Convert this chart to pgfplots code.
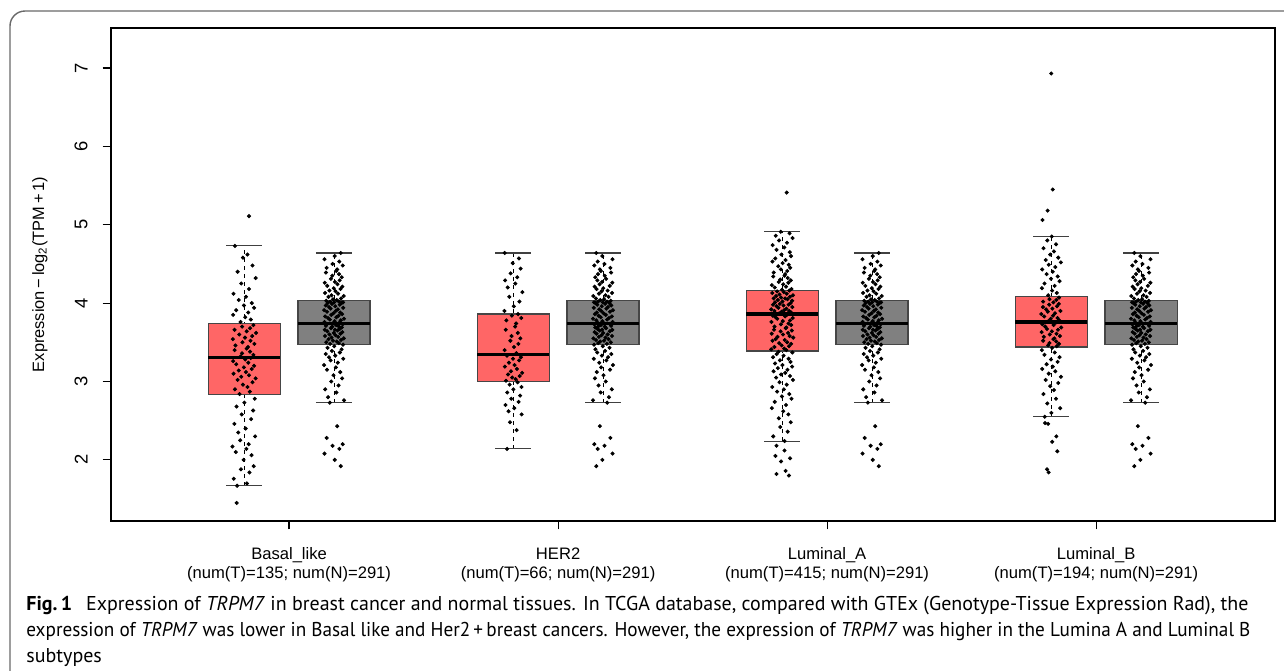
\documentclass[border=0pt]{standalone}
\usepackage{fontspec}
\setmainfont{Liberation Sans}
\newfontfamily\capfont{PT Sans}
\usepackage{graphicx}
\usepackage{pgfplots}
\usepackage{pgfplotstable}
\pgfplotsset{compat=1.18}
\definecolor{tred}{RGB}{255,102,102}
\definecolor{ngray}{RGB}{128,128,128}
\definecolor{boxedge}{RGB}{70,70,70}
\definecolor{framegray}{RGB}{105,105,105}

% Normal tissue (GTEx), shared by all four subtypes
\pgfplotstableread[row sep=\\]{
j y\\
0.31 2.43\\ -0.72 2.28\\ 0.85 2.20\\ -0.14 2.18\\ 0.52 2.14\\ -0.93 2.08\\ 0.07 2.00\\ 0.66 1.92\\
-0.41 2.73\\ 0.98 2.76\\ -0.58 2.80\\ 0.23 2.86\\ -0.86 2.90\\ 0.44 2.95\\ -0.27 3.00\\ 0.79 3.04\\
-0.05 3.08\\ 0.61 3.12\\ -0.69 3.15\\ 0.18 3.18\\ -0.97 3.21\\ 0.37 3.24\\ -0.33 3.27\\ 0.90 3.29\\
-0.49 3.31\\ 0.12 3.33\\ -0.81 3.35\\ 0.57 3.37\\ -0.20 3.39\\ 0.74 3.41\\ -0.63 3.43\\ 0.02 3.45\\
0.88 3.47\\ -0.38 3.48\\ 0.47 3.49\\ -0.76 3.50\\ 0.27 3.51\\ -0.10 3.52\\ 0.69 3.53\\ -0.54 3.54\\
0.95 3.55\\ -0.24 3.56\\ 0.40 3.57\\ -0.88 3.58\\ 0.15 3.59\\ -0.45 3.60\\ 0.63 3.61\\ -0.02 3.62\\
0.82 3.63\\ -0.66 3.64\\ 0.34 3.65\\ -0.91 3.66\\ 0.09 3.66\\ 0.55 3.67\\ -0.30 3.68\\ 0.76 3.69\\
-0.17 3.70\\ 0.49 3.70\\ -0.79 3.71\\ 0.21 3.72\\ 0.31 3.72\\ -0.72 3.73\\ 0.85 3.73\\ -0.14 3.74\\
0.52 3.75\\ -0.93 3.76\\ 0.07 3.77\\ 0.66 3.78\\ -0.41 3.79\\ 0.98 3.80\\ -0.58 3.81\\ 0.23 3.82\\
-0.86 3.83\\ 0.44 3.84\\ -0.27 3.85\\ 0.79 3.86\\ -0.05 3.87\\ 0.61 3.88\\ -0.69 3.89\\ 0.18 3.90\\
-0.97 3.91\\ 0.37 3.92\\ -0.33 3.93\\ 0.90 3.94\\ -0.49 3.95\\ 0.12 3.96\\ -0.81 3.97\\ 0.57 3.98\\
-0.20 3.99\\ 0.74 4.00\\ -0.63 4.00\\ 0.02 4.01\\ 0.88 4.01\\ -0.38 4.02\\ 0.47 4.02\\ -0.76 4.03\\
0.27 4.04\\ -0.10 4.05\\ 0.69 4.06\\ -0.54 4.08\\ 0.95 4.09\\ -0.24 4.10\\ 0.40 4.12\\ -0.88 4.13\\
0.15 4.15\\ -0.45 4.16\\ 0.63 4.18\\ -0.02 4.19\\ 0.82 4.21\\ -0.66 4.22\\ 0.34 4.24\\ -0.91 4.26\\
0.09 4.27\\ 0.55 4.29\\ -0.30 4.31\\ 0.76 4.33\\ -0.17 4.35\\ 0.49 4.37\\ -0.79 4.39\\ 0.21 4.41\\
0.31 4.43\\ -0.72 4.45\\ 0.85 4.48\\ -0.14 4.50\\ 0.52 4.53\\ -0.93 4.56\\ 0.07 4.60\\ 0.66 4.64\\
}\normaltab

% Basal_like tumour
\pgfplotstableread[row sep=\\]{
j y\\
-0.58 1.67\\ 0.23 1.70\\ -0.86 1.76\\ 0.44 1.84\\ -0.27 1.88\\ 0.79 1.92\\ -0.05 2.00\\ 0.61 2.06\\
-0.69 2.10\\ 0.18 2.14\\ -0.97 2.17\\ 0.37 2.20\\ -0.33 2.25\\ 0.90 2.30\\ -0.49 2.35\\ 0.12 2.40\\
-0.81 2.46\\ 0.57 2.52\\ -0.20 2.58\\ 0.74 2.63\\ -0.63 2.68\\ 0.02 2.73\\ 0.88 2.78\\
-0.38 2.84\\ 0.47 2.87\\ -0.76 2.90\\ 0.27 2.93\\ -0.10 2.96\\ 0.69 2.99\\ -0.54 3.02\\ 0.95 3.04\\
-0.24 3.06\\ 0.40 3.08\\ -0.88 3.10\\ 0.15 3.12\\ -0.45 3.14\\ 0.63 3.16\\ -0.02 3.18\\ 0.82 3.20\\
-0.66 3.22\\ 0.34 3.24\\ -0.91 3.26\\ 0.09 3.28\\ 0.55 3.30\\
-0.30 3.32\\ 0.76 3.34\\ -0.17 3.36\\ 0.49 3.38\\ -0.79 3.40\\ 0.21 3.42\\ 0.31 3.44\\ -0.72 3.46\\
0.85 3.48\\ -0.14 3.50\\ 0.52 3.52\\ -0.93 3.54\\ 0.07 3.56\\ 0.66 3.58\\ -0.41 3.60\\ 0.98 3.62\\
0.21 3.64\\ -0.79 3.66\\ 0.49 3.68\\ -0.17 3.70\\ 0.76 3.72\\
-0.30 3.76\\ 0.55 3.79\\ 0.09 3.82\\ -0.91 3.85\\ 0.34 3.88\\ -0.66 3.91\\ 0.82 3.94\\ -0.02 3.97\\
0.63 4.00\\ -0.45 4.04\\ 0.15 4.08\\ -0.88 4.12\\ 0.40 4.18\\ -0.24 4.25\\ 0.95 4.32\\ -0.54 4.40\\
0.69 4.48\\ -0.10 4.58\\ 0.27 4.62\\ -0.76 4.73\\
0.40 5.11\\ -0.62 1.45\\
}\basaltab

% HER2 tumour
\pgfplotstableread[row sep=\\]{
j y\\
-0.65 2.14\\ 0.37 2.38\\ -0.33 2.48\\ 0.90 2.58\\ -0.49 2.62\\ 0.12 2.66\\ -0.81 2.70\\ 0.57 2.74\\
-0.20 2.78\\ 0.74 2.82\\ -0.63 2.86\\ 0.02 2.90\\ 0.88 2.93\\ -0.38 2.96\\ 0.47 2.99\\
-0.76 3.01\\ 0.27 3.03\\ -0.10 3.05\\ 0.69 3.07\\ -0.54 3.09\\ 0.95 3.11\\ -0.24 3.13\\ 0.40 3.16\\
-0.88 3.19\\ 0.15 3.21\\ -0.45 3.24\\ 0.63 3.27\\ -0.02 3.29\\ 0.82 3.31\\ -0.66 3.33\\
0.34 3.36\\ -0.91 3.40\\ 0.09 3.44\\ 0.55 3.48\\ -0.30 3.52\\ 0.76 3.55\\ -0.17 3.58\\ 0.49 3.62\\
-0.79 3.66\\ 0.21 3.70\\ 0.31 3.74\\ -0.72 3.78\\ 0.85 3.81\\ -0.14 3.84\\ 0.52 3.86\\
-0.93 3.90\\ 0.07 3.96\\ 0.66 4.02\\ -0.41 4.08\\ 0.98 4.14\\ -0.58 4.20\\ 0.23 4.25\\ -0.86 4.29\\
0.44 4.33\\ -0.27 4.38\\ 0.79 4.44\\ -0.05 4.51\\ 0.61 4.57\\ -0.90 4.64\\
}\hertab

% Luminal_A tumour
\pgfplotstableread[row sep=\\]{
j y\\
0.21 2.24\\ -0.79 2.30\\ 0.49 2.36\\ -0.17 2.42\\ 0.76 2.48\\ -0.30 2.53\\ 0.55 2.58\\ 0.09 2.62\\
-0.91 2.66\\ 0.34 2.70\\ -0.66 2.74\\ 0.82 2.78\\ -0.02 2.81\\ 0.63 2.84\\ -0.45 2.87\\ 0.15 2.90\\
-0.88 2.93\\ 0.40 2.96\\ -0.24 2.99\\ 0.95 3.02\\ -0.54 3.05\\ 0.69 3.07\\ -0.10 3.09\\ 0.27 3.11\\
-0.76 3.13\\ 0.47 3.15\\ -0.38 3.17\\ 0.88 3.19\\ 0.02 3.21\\ -0.63 3.23\\ 0.74 3.25\\ -0.20 3.27\\
0.57 3.29\\ -0.81 3.31\\ 0.12 3.33\\ -0.49 3.35\\ 0.90 3.37\\ -0.33 3.38\\
0.37 3.40\\ -0.97 3.41\\ 0.18 3.42\\ -0.69 3.44\\ 0.61 3.45\\ -0.05 3.46\\ 0.79 3.48\\ -0.27 3.49\\
0.44 3.50\\ -0.86 3.52\\ 0.23 3.53\\ -0.58 3.54\\ 0.98 3.56\\ -0.41 3.57\\ 0.66 3.58\\ 0.07 3.60\\
-0.93 3.61\\ 0.52 3.62\\ -0.14 3.64\\ 0.85 3.65\\ -0.72 3.66\\ 0.31 3.68\\ 0.36 3.69\\ -0.68 3.70\\
0.80 3.72\\ -0.11 3.73\\ 0.56 3.74\\ -0.95 3.76\\ 0.05 3.77\\ 0.70 3.78\\ -0.44 3.80\\ 0.93 3.81\\
-0.60 3.82\\ 0.26 3.83\\ -0.83 3.84\\ 0.41 3.85\\
-0.27 3.87\\ 0.79 3.88\\ -0.05 3.89\\ 0.61 3.90\\ -0.69 3.90\\ 0.18 3.91\\ -0.97 3.92\\ 0.37 3.93\\
-0.33 3.94\\ 0.90 3.95\\ -0.49 3.96\\ 0.12 3.97\\ -0.81 3.98\\ 0.57 3.98\\ -0.20 3.99\\ 0.74 4.00\\
-0.63 4.01\\ 0.02 4.02\\ 0.88 4.03\\ -0.38 4.04\\ 0.47 4.05\\ -0.76 4.06\\ 0.27 4.06\\ -0.10 4.07\\
0.69 4.08\\ -0.54 4.09\\ 0.95 4.10\\ -0.24 4.11\\ 0.40 4.12\\ -0.88 4.13\\ 0.15 4.14\\ -0.45 4.15\\
0.63 4.16\\
-0.02 4.17\\ 0.82 4.18\\ -0.66 4.20\\ 0.34 4.21\\ -0.91 4.23\\ 0.09 4.24\\ 0.55 4.26\\ -0.30 4.27\\
0.76 4.29\\ -0.17 4.30\\ 0.49 4.32\\ -0.79 4.34\\ 0.21 4.35\\ 0.26 4.37\\ -0.75 4.39\\ 0.45 4.41\\
-0.12 4.43\\ 0.71 4.45\\ -0.35 4.47\\ 0.58 4.49\\ 0.04 4.51\\ -0.86 4.53\\ 0.30 4.55\\ -0.61 4.57\\
0.78 4.60\\ -0.07 4.62\\ 0.67 4.65\\ -0.50 4.68\\ 0.19 4.71\\ -0.84 4.74\\ 0.43 4.77\\ -0.28 4.80\\
0.92 4.83\\ -0.57 4.86\\ 0.65 4.89\\ -0.13 4.91\\
0.40 5.41\\ -0.50 2.18\\ 0.20 2.12\\ -0.60 2.05\\ 0.70 2.02\\ -0.10 1.98\\ 0.30 1.86\\ -0.50 1.82\\
0.60 1.80\\
}\lumatab

% Luminal_B tumour
\pgfplotstableread[row sep=\\]{
j y\\
-0.63 2.55\\ 0.02 2.60\\ 0.88 2.66\\ -0.38 2.72\\ 0.47 2.78\\ -0.76 2.84\\ 0.27 2.89\\ -0.10 2.94\\
0.69 2.98\\ -0.54 3.02\\ 0.95 3.06\\ -0.24 3.10\\ 0.40 3.13\\ -0.88 3.16\\ 0.15 3.19\\ -0.45 3.22\\
0.63 3.25\\ -0.02 3.28\\ 0.82 3.31\\ -0.66 3.34\\ 0.34 3.37\\ -0.91 3.40\\ 0.09 3.43\\
0.55 3.45\\ -0.30 3.46\\ 0.76 3.48\\ -0.17 3.49\\ 0.49 3.51\\ -0.79 3.52\\ 0.21 3.54\\ 0.31 3.55\\
-0.72 3.57\\ 0.85 3.58\\ -0.14 3.60\\ 0.52 3.61\\ -0.93 3.63\\ 0.07 3.64\\ 0.66 3.66\\ -0.41 3.67\\
0.98 3.69\\ -0.58 3.70\\ 0.23 3.72\\ -0.86 3.73\\ 0.44 3.75\\
-0.27 3.77\\ 0.79 3.78\\ -0.05 3.80\\ 0.61 3.81\\ -0.69 3.83\\ 0.18 3.84\\ -0.97 3.86\\ 0.37 3.87\\
-0.33 3.89\\ 0.90 3.90\\ -0.49 3.92\\ 0.12 3.93\\ -0.81 3.95\\ 0.57 3.96\\ -0.20 3.98\\ 0.74 3.99\\
0.21 4.01\\ -0.79 4.02\\ 0.49 4.04\\ -0.17 4.05\\ 0.76 4.07\\
-0.30 4.10\\ 0.55 4.13\\ 0.09 4.16\\ -0.91 4.19\\ 0.34 4.22\\ -0.66 4.25\\ 0.82 4.28\\ -0.02 4.31\\
0.63 4.34\\ -0.45 4.37\\ 0.15 4.40\\ -0.88 4.43\\ 0.40 4.46\\ -0.24 4.49\\ 0.95 4.52\\ -0.54 4.55\\
0.69 4.58\\ -0.10 4.62\\ 0.27 4.66\\ -0.76 4.70\\ 0.47 4.75\\ -0.38 4.80\\ 0.05 4.85\\
0.00 6.93\\ 0.15 5.45\\ -0.35 5.18\\ -0.85 5.06\\ -0.60 2.47\\ -0.30 2.46\\ 0.50 2.30\\ 0.10 2.23\\
0.60 2.11\\ -0.40 1.88\\ -0.25 1.84\\
}\lumbtab

\pgfplotsset{
  stem/.style={black, line width=0.5pt, dash pattern=on 2pt off 2pt, mark=none},
  cap/.style={black!75, line width=0.55pt, mark=none},
  boxr/.style={draw=boxedge, fill=tred, line width=0.6pt, mark=none},
  boxg/.style={draw=boxedge, fill=ngray, line width=0.6pt, mark=none},
  med/.style={black, line width=1.6pt, mark=none},
  pts/.style={only marks, mark=*, mark size=0.8pt, black, mark options={draw=black, fill=black}},
}

\begin{document}
\begin{tikzpicture}
\useasboundingbox (0,0) rectangle (642pt,-335pt);
\draw[framegray, line width=0.7pt] (5pt,-345pt) -- (5pt,-13pt) arc[start angle=180, end angle=90, radius=7.5pt] -- (650pt,-5.5pt);

\begin{axis}[
  at={(55.5pt,-260.5pt)}, anchor=south west,
  scale only axis, width=582pt, height=246.5pt,
  xmin=-0.662, xmax=3.665, ymin=1.22, ymax=7.51,
  axis line style={line width=0.9pt},
  tick align=outside, xtick pos=left, ytick pos=left,
  major tick length=4.2pt,
  every tick/.style={black, line width=0.6pt},
  xtick={0,1,2,3}, ytick={2,3,4,5,6,7},
  xticklabels={{Basal\_like\\(num(T)=135; num(N)=291)},{HER2\\(num(T)=66; num(N)=291)},{Luminal\_A\\(num(T)=415; num(N)=291)},{Luminal\_B\\(num(T)=194; num(N)=291)}},
  xticklabel style={align=center, font=\fontsize{8.3}{9.6}\selectfont, yshift=-5.5pt},
  /pgf/number format/assume math mode=true,
  yticklabel style={xshift=-4pt, rotate=90, anchor=south, font=\fontsize{9.2}{10}\selectfont},
  ylabel={Expression\,−\,log\textsubscript{2}(TPM\,+\,1)},
  every axis y label/.style={at={(axis description cs:-0.061,0.5)}, rotate=90, anchor=center, font=\fontsize{8.2}{10}\selectfont},
  clip=false,
]
% ---- Basal_like
\addplot[stem] coordinates {(-0.167,1.67) (-0.167,4.73)};
\addplot[cap] coordinates {(-0.234,1.67) (-0.100,1.67)};
\addplot[cap] coordinates {(-0.234,4.73) (-0.100,4.73)};
\addplot[boxr] coordinates {(-0.301,2.83) (-0.033,2.83) (-0.033,3.74) (-0.301,3.74) (-0.301,2.83)};
\addplot[med] coordinates {(-0.301,3.31) (-0.033,3.31)};
\addplot[stem] coordinates {(0.167,2.73) (0.167,4.64)};
\addplot[cap] coordinates {(0.100,2.73) (0.234,2.73)};
\addplot[cap] coordinates {(0.100,4.64) (0.234,4.64)};
\addplot[boxg] coordinates {(0.033,3.47) (0.301,3.47) (0.301,4.03) (0.033,4.03) (0.033,3.47)};
\addplot[med] coordinates {(0.033,3.74) (0.301,3.74)};
% ---- HER2
\addplot[stem] coordinates {(0.833,2.14) (0.833,4.64)};
\addplot[cap] coordinates {(0.766,2.14) (0.900,2.14)};
\addplot[cap] coordinates {(0.766,4.64) (0.900,4.64)};
\addplot[boxr] coordinates {(0.699,3.00) (0.967,3.00) (0.967,3.86) (0.699,3.86) (0.699,3.00)};
\addplot[med] coordinates {(0.699,3.34) (0.967,3.34)};
\addplot[stem] coordinates {(1.167,2.73) (1.167,4.64)};
\addplot[cap] coordinates {(1.100,2.73) (1.234,2.73)};
\addplot[cap] coordinates {(1.100,4.64) (1.234,4.64)};
\addplot[boxg] coordinates {(1.033,3.47) (1.301,3.47) (1.301,4.03) (1.033,4.03) (1.033,3.47)};
\addplot[med] coordinates {(1.033,3.74) (1.301,3.74)};
% ---- Luminal_A
\addplot[stem] coordinates {(1.833,2.24) (1.833,4.91)};
\addplot[cap] coordinates {(1.766,2.24) (1.900,2.24)};
\addplot[cap] coordinates {(1.766,4.91) (1.900,4.91)};
\addplot[boxr] coordinates {(1.699,3.39) (1.967,3.39) (1.967,4.16) (1.699,4.16) (1.699,3.39)};
\addplot[med] coordinates {(1.699,3.86) (1.967,3.86)};
\addplot[stem] coordinates {(2.167,2.73) (2.167,4.64)};
\addplot[cap] coordinates {(2.100,2.73) (2.234,2.73)};
\addplot[cap] coordinates {(2.100,4.64) (2.234,4.64)};
\addplot[boxg] coordinates {(2.033,3.47) (2.301,3.47) (2.301,4.03) (2.033,4.03) (2.033,3.47)};
\addplot[med] coordinates {(2.033,3.74) (2.301,3.74)};
% ---- Luminal_B
\addplot[stem] coordinates {(2.833,2.55) (2.833,4.85)};
\addplot[cap] coordinates {(2.766,2.55) (2.900,2.55)};
\addplot[cap] coordinates {(2.766,4.85) (2.900,4.85)};
\addplot[boxr] coordinates {(2.699,3.44) (2.967,3.44) (2.967,4.08) (2.699,4.08) (2.699,3.44)};
\addplot[med] coordinates {(2.699,3.76) (2.967,3.76)};
\addplot[stem] coordinates {(3.167,2.73) (3.167,4.64)};
\addplot[cap] coordinates {(3.100,2.73) (3.234,2.73)};
\addplot[cap] coordinates {(3.100,4.64) (3.234,4.64)};
\addplot[boxg] coordinates {(3.033,3.47) (3.301,3.47) (3.301,4.03) (3.033,4.03) (3.033,3.47)};
\addplot[med] coordinates {(3.033,3.74) (3.301,3.74)};
% ---- jittered samples
\addplot[pts] table[x expr={-0.167+0.045*\thisrow{j}}, y=y] {\basaltab};
\addplot[pts] table[x expr={0.167+0.038*\thisrow{j}}, y=y] {\normaltab};
\addplot[pts] table[x expr={0.833+0.035*\thisrow{j}}, y=y] {\hertab};
\addplot[pts] table[x expr={1.167-0.038*\thisrow{j}}, y=y] {\normaltab};
\addplot[pts] table[x expr={1.833+0.042*\thisrow{j}}, y=y] {\lumatab};
\addplot[pts] table[x expr={2.167+0.038*\thisrow{j}}, y=y] {\normaltab};
\addplot[pts] table[x expr={2.833+0.038*\thisrow{j}}, y=y] {\lumbtab};
\addplot[pts] table[x expr={3.167-0.038*\thisrow{j}}, y=y] {\normaltab};
\end{axis}

\begin{scope}[every node/.style={anchor=base west, inner sep=0pt, font=\capfont\fontsize{10}{13}\selectfont}]
\node at (13pt,-305pt) {\resizebox{611pt}{\height}{\textbf{Fig.\,1}\hspace{0.7em}Expression of \textit{TRPM7} in breast cancer and normal tissues. In TCGA database, compared with GTEx (Genotype-Tissue Expression Rad), the}};
\node at (13pt,-318pt) {\resizebox{612pt}{\height}{expression of \textit{TRPM7} was lower in Basal like and Her2\,+\,breast cancers. However, the expression of \textit{TRPM7} was higher in the Lumina A and Luminal B}};
\node at (13pt,-331pt) {subtypes};
\end{scope}
\end{tikzpicture}
\end{document}
